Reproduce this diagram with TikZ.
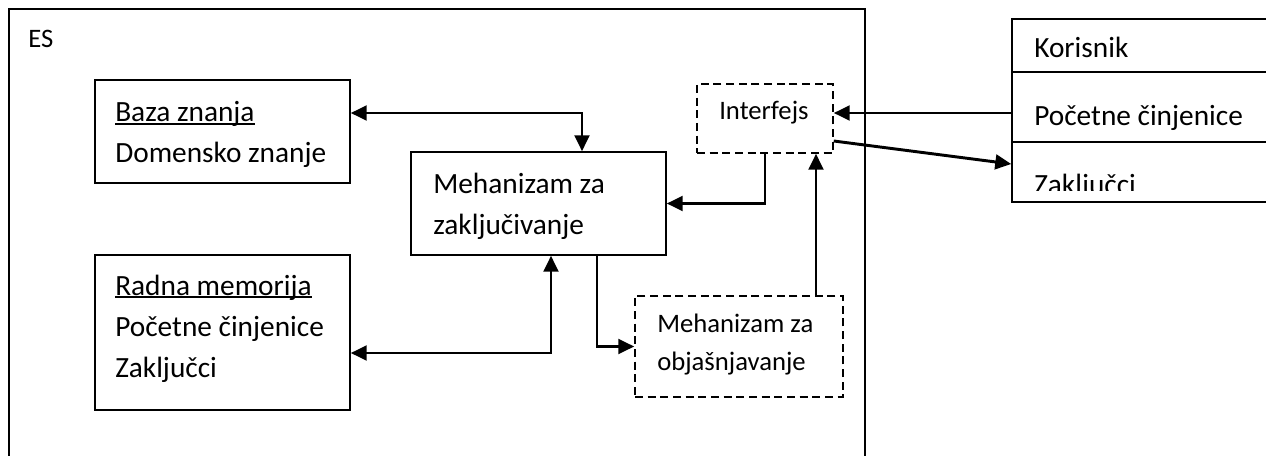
\documentclass[tikz,border=0pt]{standalone}
\usepackage{fontspec}
\setmainfont{Carlito}
\usetikzlibrary{arrows.meta,fit}

% underline that sits just below the baseline, crossing descenders
\newcommand\undl[1]{\setbox0\hbox{#1}\rlap{\rule[-2.2pt]{\wd0}{1.2pt}}#1}

\begin{document}
\begin{tikzpicture}[
  x=0.75pt, y=-0.75pt,
  >={Triangle[length=12pt,width=11pt]},
  frame/.style={draw, line width=1.4pt, inner sep=0pt},
  box/.style={draw, line width=1.1pt, inner sep=0pt},
  dbox/.style={draw, line width=1.1pt, inner sep=0pt, dash pattern=on 6pt off 3.5pt},
  txt/.style={inner sep=0pt, anchor=base west, font=\fontsize{22}{26}\selectfont},
  stxt/.style={inner sep=0pt, anchor=base west, font=\fontsize{20}{24}\selectfont},
  arr/.style={line width=2.2pt}
]
% outer system frame
\node[frame, fit={(9,9) (865,475)}] (es) {};
\node[stxt] (esT) at (28,48) {ES};

% knowledge base
\node[box, fit={(95,80) (350,183)}] (baza) {};
\node[txt] (baza1) at (115,122) {\undl{Baza znanja}};
\node[txt] (baza2) at (115,162) {Domensko znanje};

% working memory
\node[box, fit={(95,255) (350,410)}] (radna) {};
\node[txt] (radna1) at (115,295) {\undl{Radna memorija}};
\node[txt] (radna2) at (115,336) {Početne činjenice};
\node[txt] (radna3) at (115,377) {Zaključci};

% inference engine
\node[box, fit={(411,152) (666,255)}] (meh) {};
\node[txt] (meh1) at (433,193) {Mehanizam za};
\node[txt] (meh2) at (433,234) {zaključivanje};

% interface
\node[dbox, fit={(697,84) (833,153)}] (intf) {};
\node[stxt] (intfT) at (719,120) {Interfejs};

% explanation facility
\node[dbox, fit={(635,296) (843,397)}] (obj) {};
\node[stxt] (obj1) at (657,332) {Mehanizam za};
\node[stxt] (obj2) at (657,370) {objašnjavanje};

% user table
\node[box, fit={(1012,19) (1280,72)}] (kor1) {};
\node[box, fit={(1012,72) (1280,142)}] (kor2) {};
\node[box, fit={(1012,142) (1280,202)}] (kor3) {};
\node[txt] (kor1T) at (1034,58) {Korisnik};
\node[txt] (kor2T) at (1034,126) {Početne činjenice};
\begin{scope}
  \clip (1013,143) rectangle (1266,190);
  \node[txt] (kor3T) at (1034,195) {Zaključci};
\end{scope}

% bend points of the connectors
\coordinate (j1) at (582,113);
\coordinate (j2) at (816,0);
\coordinate (j3) at (597,0);
\coordinate (j4) at (551,353);
\coordinate (j5) at (0,113);
\coordinate (j6) at (0,141);
\coordinate (j7) at (0,164);

% connectors
\draw[arr,<->] (baza.east |- j1) -| (meh.north -| j1);
\draw[arr,->] (intf.south) |- (meh.east);
\draw[arr,->] (obj.north -| j2) -- (intf.south -| j2);
\draw[arr,->] (meh.south -| j3) |- (obj.west);
\draw[arr,<->] (radna.east |- j4) -| (meh.south -| j4);
\draw[arr,->] (kor2.west |- j5) -- (intf.east |- j5);
\draw[arr,->] (intf.east |- j6) -- (kor3.west |- j7);

\pgfresetboundingbox
\path[use as bounding box] (0,0) rectangle (1266,456);
\end{tikzpicture}
\end{document}
